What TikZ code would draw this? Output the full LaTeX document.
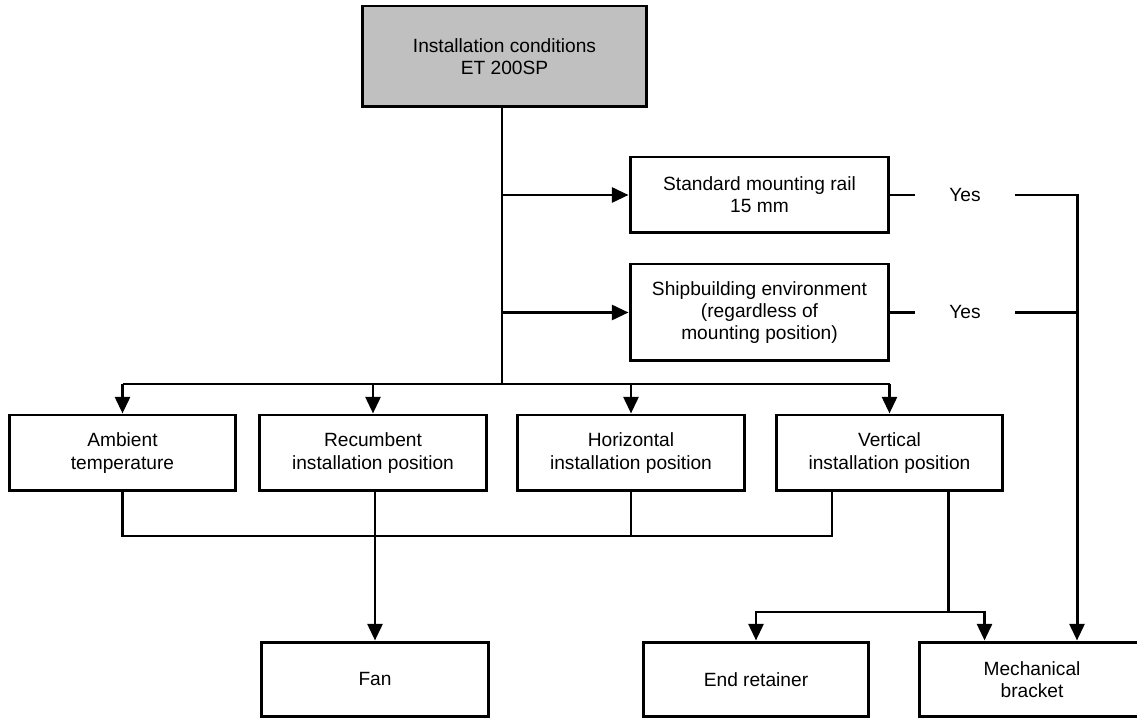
\documentclass[tikz,border=0pt]{standalone}
\usepackage{fontspec}
\setmainfont{Liberation Sans}
\usetikzlibrary{arrows.meta,positioning}
\definecolor{topgray}{RGB}{192,192,192}

\begin{document}
\begin{tikzpicture}[x=0.02cm,y=-0.02cm,
    every node/.style={font=\fontsize{10.9}{12.6}\selectfont},
    box/.style={draw,line width=1.7pt,align=center,inner sep=2pt},
    link/.style={line width=1.7pt},
    arr/.style={link,-{Triangle[width=8.5pt,length=9.5pt]}}]
  \clip (0,0) rectangle (1137,719);
  \useasboundingbox (0,0) rectangle (1137,719);
  % top block
  \node[box,fill=topgray,minimum width=5.7cm,minimum height=2.02cm] (top) at (504.5,56.5) {Installation conditions\\ET 200SP};
  % special cases
  \node[box,minimum width=5.18cm,minimum height=1.52cm] (rail) at (759.5,195) {Standard mounting rail\\15 mm};
  \node[box,minimum width=5.18cm,minimum height=1.94cm] (ship) at (759.5,312.5) {Shipbuilding environment\\(regardless of\\mounting position)};
  \node[minimum width=2cm,inner sep=0pt] (yes1) at (965,195) {Yes};
  \node[minimum width=2cm,inner sep=0pt] (yes2) at (965,312.5) {Yes};
  % conditions row
  \node[box,minimum width=4.54cm,minimum height=1.52cm] (ambient) at (122.5,453) {Ambient\\temperature};
  \node[box,minimum width=4.54cm,minimum height=1.52cm] (recumb) at (373,453) {Recumbent\\installation position};
  \node[box,minimum width=4.54cm,minimum height=1.52cm] (horiz) at (631,453) {Horizontal\\installation position};
  \node[box,minimum width=4.54cm,minimum height=1.52cm] (vert) at (889.5,453) {Vertical\\installation position};
  % results
  \node[box,minimum width=4.56cm,minimum height=1.5cm] (fan) at (375,679.5) {Fan};
  \node[box,minimum width=4.52cm,minimum height=1.5cm] (endret) at (756,679.5) {End retainer};
  \node[box,minimum width=4.52cm,minimum height=1.5cm] (bracket) at (1032,679.5) {Mechanical\\bracket};

  \coordinate (bus) at (502,384);
  \coordinate (join) at (502,536);
  \coordinate (fork) at (948,612);
  \coordinate (vl) at (832,491);
  \coordinate (vr) at (948,491);
  \coordinate (rline) at (1077,195);

  \draw[link] (top.south -| bus) -- (bus);
  \draw[arr] (bus |- rail.west) -- (rail.west);
  \draw[arr] (bus |- ship.west) -- (ship.west);
  \draw[link] (ambient.north |- bus) -- (vert.north |- bus);
  \foreach \n in {ambient,recumb,horiz,vert}
    \draw[arr] (\n.north |- bus) -- (\n.north);

  \draw[link] (ambient.south) -- (ambient.south |- join) -- (vl |- join) -- (vl);
  \draw[link] (horiz.south) -- (horiz.south |- join);
  \draw[arr] (recumb.south -| fan.north) -- (fan.north);

  \draw[link] (vr) -- (fork);
  \draw[arr] (fork) -| (endret.north);
  \draw[arr] (fork) -| ([xshift=1.34cm]bracket.north west);

  \draw[link] (rail.east) -- (yes1.west);
  \draw[link] (ship.east) -- (yes2.west);
  \draw[link] (yes2.east) -- (rline |- yes2.east);
  \draw[arr] (yes1.east) -- (rline) -- (rline |- bracket.north);
\end{tikzpicture}
\end{document}
